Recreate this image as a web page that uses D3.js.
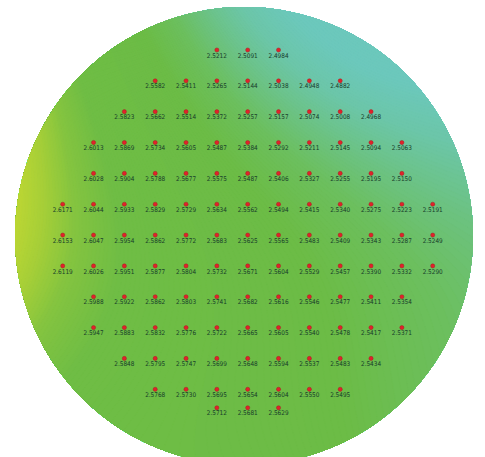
<!DOCTYPE html>
<html>
<head>
<meta charset="utf-8">
<script src="https://cdn.jsdelivr.net/npm/d3@7"></script>
<style>
  body { margin: 0; background: #fff; }
  svg { display: block; }
</style>
</head>
<body>
<div id="chart"></div>
<script>
// die rows, top to bottom; first column index of each row
var row_index   = [0, 1, 2, 3, 4, 5, 6, 7, 8, 9, 10, 11, 11.6];
var row_start   = [5, 3, 2, 1, 1, 0, 0, 0, 1, 1, 2, 3, 5];
var row_values  = [
  [2.5212, 2.5091, 2.4984],
  [2.5582, 2.5411, 2.5265, 2.5144, 2.5038, 2.4948, 2.4882],
  [2.5823, 2.5662, 2.5514, 2.5372, 2.5257, 2.5157, 2.5074, 2.5008, 2.4968],
  [2.6013, 2.5869, 2.5734, 2.5605, 2.5487, 2.5384, 2.5292, 2.5211, 2.5145, 2.5094, 2.5063],
  [2.6028, 2.5904, 2.5788, 2.5677, 2.5575, 2.5487, 2.5406, 2.5327, 2.5255, 2.5195, 2.5150],
  [2.6171, 2.6044, 2.5933, 2.5829, 2.5729, 2.5634, 2.5562, 2.5494, 2.5415, 2.5340, 2.5275, 2.5223, 2.5191],
  [2.6153, 2.6047, 2.5954, 2.5862, 2.5772, 2.5683, 2.5625, 2.5565, 2.5483, 2.5409, 2.5343, 2.5287, 2.5249],
  [2.6119, 2.6026, 2.5951, 2.5877, 2.5804, 2.5732, 2.5671, 2.5604, 2.5529, 2.5457, 2.5390, 2.5332, 2.5290],
  [2.5988, 2.5922, 2.5862, 2.5803, 2.5741, 2.5682, 2.5616, 2.5546, 2.5477, 2.5411, 2.5354],
  [2.5947, 2.5883, 2.5832, 2.5776, 2.5722, 2.5665, 2.5605, 2.5540, 2.5478, 2.5417, 2.5371],
  [2.5848, 2.5795, 2.5747, 2.5699, 2.5648, 2.5594, 2.5537, 2.5483, 2.5434],
  [2.5768, 2.5730, 2.5695, 2.5654, 2.5604, 2.5550, 2.5495],
  [2.5712, 2.5681, 2.5629]
];
var color_stops  = [2.480, 2.498, 2.512, 2.530, 2.550, 2.595, 2.610, 2.622, 2.635];
var color_values = ["#6cc8bc", "#6cc6a8", "#6cc38a", "#6cbf5e", "#6cbc46", "#6fbd45", "#84c440", "#a6cf38", "#c2d832"];

var width  = 485;
var height = 457;
var cx = 244, cy = 236, radius = 229;

var points = [];
row_values.forEach(function (vals, r) {
  vals.forEach(function (v, i) {
    points.push({ col: row_start[r] + i, row: row_index[r], value: v });
  });
});

var x = d3.scaleLinear().domain([0, 12]).range([62.7, 432.7]);
var y = d3.scaleLinear().domain([0, 11]).range([50, 389.3]);
var color = d3.scaleLinear().domain(color_stops).range(color_values).clamp(true);

points.forEach(function (p) { p.px = x(p.col); p.py = y(p.row); });

// local linear (gaussian weighted plane) estimate of the die values, for the fill
var sigma2 = 2 * 55 * 55;
function local_plane(qx, qy) {
  var s0 = 0, sx = 0, sy = 0, sxx = 0, sxy = 0, syy = 0, sv = 0, sxv = 0, syv = 0;
  for (var k = 0; k < points.length; k++) {
    var p = points[k];
    var dx = p.px - qx, dy = p.py - qy;
    var w = Math.exp(-(dx * dx + dy * dy) / sigma2);
    s0 += w; sx += w * dx; sy += w * dy;
    sxx += w * dx * dx; sxy += w * dx * dy; syy += w * dy * dy;
    sv += w * p.value; sxv += w * dx * p.value; syv += w * dy * p.value;
  }
  var det = s0 * (sxx * syy - sxy * sxy) - sx * (sx * syy - sxy * sy) + sy * (sx * sxy - sxx * sy);
  if (Math.abs(det) < 1e-12) return sv / s0;
  var det0 = sv * (sxx * syy - sxy * sxy) - sx * (sxv * syy - sxy * syv) + sy * (sxv * sxy - sxx * syv);
  return det0 / det;
}

var svg = d3.select("#chart").append("svg")
  .attr("width", width)
  .attr("height", height);

svg.append("clipPath").attr("id", "wafer")
  .append("circle").attr("cx", cx).attr("cy", cy).attr("r", radius);

// grid of values, one per 2px, then filled contour bands
var step = 2;
var gw = Math.ceil(width / step) + 1, gh = Math.ceil(height / step) + 1;
var grid = new Array(gw * gh);
for (var j = 0; j < gh; j++) {
  for (var i = 0; i < gw; i++) {
    grid[j * gw + i] = local_plane(i * step, j * step);
  }
}
var ext = d3.extent(grid);
var thresholds = d3.range(ext[0], ext[1], 0.0012);
var contours = d3.contours().size([gw, gh]).thresholds(thresholds)(grid);

svg.append("g")
  .attr("clip-path", "url(#wafer)")
  .selectAll("path")
  .data(contours)
  .join("path")
  .attr("d", d3.geoPath(d3.geoIdentity().scale(step)))
  .attr("fill", function (d) { return color(d.value + 0.0006); })
  .attr("stroke", function (d) { return color(d.value + 0.0006); })
  .attr("stroke-width", 0.6);

var dies = svg.append("g").selectAll("g")
  .data(points)
  .join("g")
  .attr("transform", function (d) { return "translate(" + d.px + "," + d.py + ")"; });

dies.append("circle")
  .attr("r", 2.1)
  .attr("fill", "#e1212b")
  .attr("stroke", "#9a1a1a")
  .attr("stroke-width", 0.4);

dies.append("text")
  .attr("y", 7.6)
  .attr("text-anchor", "middle")
  .style("font-family", "'Liberation Sans Narrow', 'DejaVu Sans Condensed', sans-serif")
  .style("font-size", "6.4px")
  .style("fill", "#173d2a")
  .text(function (d) { return d.value.toFixed(4); });
</script>
</body>
</html>
